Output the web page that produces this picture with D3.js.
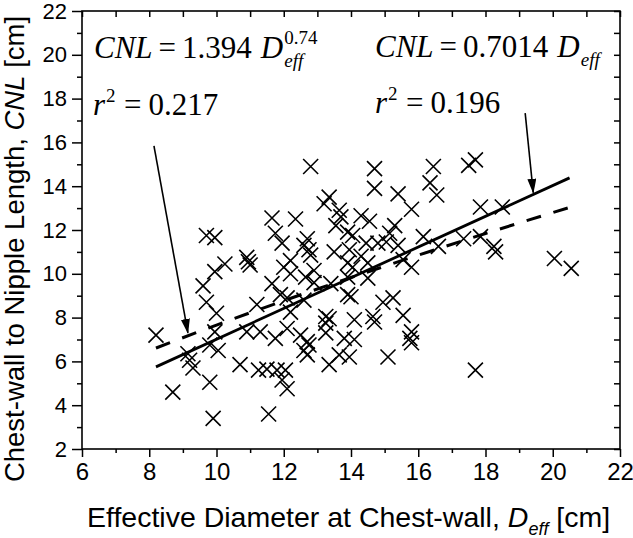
<!DOCTYPE html>
<html><head><meta charset="utf-8">
<script src="https://cdn.jsdelivr.net/npm/d3@7"></script>
<style>body{margin:0;background:#fff}text{white-space:pre}</style>
</head><body>
<svg id="chart" width="633" height="538"></svg>
<script>
// ---- data ----
const diameter = [
  8.2, 8.7,
  9.15, 9.2, 9.3, 9.6, 9.7, 9.7, 9.95, 9.8, 9.8, 9.9, 9.95, 10.0, 9.95, 10.05,
  10.25, 10.7, 10.9, 10.95, 11.0, 10.9,
  11.2, 11.3, 11.25, 11.5, 11.55, 11.65, 11.75, 11.65, 11.75, 11.9, 11.95, 11.95, 11.8,
  12.0, 12.05, 12.1, 12.1, 12.1, 12.2, 12.2, 12.2, 12.35, 12.5, 12.6, 12.6, 12.6, 12.65, 12.7, 12.7, 12.75, 12.7, 12.75, 12.8, 12.8, 12.9, 12.9,
  13.2, 13.35, 13.25, 13.25, 13.35, 13.25, 13.35, 13.4, 13.5, 13.55, 13.65, 13.7, 13.65, 13.8, 13.9, 13.9, 13.9, 13.9, 13.95, 13.95, 14.0,
  14.05, 14.05, 14.1, 14.1, 14.3, 14.3, 14.45, 14.5, 14.5, 14.55, 14.7, 14.7, 14.65, 14.7, 14.8, 14.95,
  15.05, 15.15, 15.3, 15.4, 15.25, 15.1, 15.4, 15.55, 15.55, 15.8, 15.8, 15.8, 15.75, 15.8,
  16.15, 16.45, 16.35, 16.55, 16.6,
  17.35, 17.5, 17.7, 17.7, 17.85, 17.85, 18.25, 18.3, 18.5, 20.05, 20.55
];
const nippleLength = [
  7.2, 4.6,
  6.35, 6.05, 5.7, 9.45, 8.7, 11.75, 11.65, 6.75, 5.05, 3.4, 7.35, 8.2, 10.1, 6.5,
  10.45, 5.85, 10.75, 10.55, 10.4, 7.35,
  8.6, 7.35, 5.6, 5.65, 3.6, 12.55, 11.85, 9.55, 7.05, 9.05, 11.4, 5.15, 5.6,
  10.3, 5.6, 4.75, 8.9, 7.5, 10.6, 10.0, 8.25, 12.5, 7.2, 8.8, 11.3, 6.5, 9.85, 11.6, 6.9, 6.75, 6.3, 11.1, 14.9, 10.85, 10.15, 9.6,
  13.2, 13.5, 8.05, 7.3, 7.95, 7.75, 5.85, 9.55, 11.0, 12.2, 12.9, 12.6, 6.3, 7.05, 11.9, 10.5, 9.85, 9.05, 11.1, 6.2, 8.95,
  11.75, 10.3, 7.9, 7.0, 12.65, 10.8, 11.4, 10.5, 9.8, 12.4, 14.8, 13.9, 8.05, 7.8, 11.4, 8.7,
  11.45, 11.85, 12.2, 11.3, 8.9, 6.2, 13.65, 8.1, 10.65, 10.3, 12.95, 7.35, 7.05, 6.85,
  11.7, 14.9, 14.15, 13.6, 11.25,
  11.6, 14.95, 15.2, 5.6, 13.05, 11.7, 11.25, 11.0, 13.05, 10.7, 10.25
];
// linear fit CNL = 0.7014 Deff (end points)
const linearFitD = [8.2, 20.5];
const linearFitCNL = [5.75, 14.38];
// power fit CNL = 1.394 Deff^0.74
const powerFitD = [8.2, 10, 12, 14, 16, 18, 20.5];
const powerFitCNL = [6.61, 7.66, 8.77, 9.83, 10.85, 11.84, 13.03];

const xMajorTicks = [6, 8, 10, 12, 14, 16, 18, 20, 22];
const xMinorTicks = [7, 9, 11, 13, 15, 17, 19, 21];
const yMajorTicks = [2, 4, 6, 8, 10, 12, 14, 16, 18, 20, 22];
const yMinorTicks = [3, 5, 7, 9, 11, 13, 15, 17, 19, 21];

const xLabelMain = "Effective Diameter at Chest-wall, ";
const yLabelMain = "Chest-wall to Nipple Length, ";

// arrows (data coordinates: start -> tip)
const arrowLeft = [[8.14, 15.84], [9.15, 7.30]];
const arrowRight = [[19.18, 17.34], [19.42, 13.70]];

// ---- drawing ----
const svg = d3.select('#chart');
const W = 633, H = 538;
const plot = {left: 82, right: 620, top: 11, bottom: 449};
const x = d3.scaleLinear().domain([6, 22]).range([plot.left, plot.right]);
const y = d3.scaleLinear().domain([2, 22]).range([plot.bottom, plot.top]);
const sans = '"Liberation Sans", Arial, sans-serif';
const serif = '"Liberation Serif", "Times New Roman", serif';

svg.append('rect').attr('width', W).attr('height', H).attr('fill', '#fff');

function styleAxis(g, fs) {
  g.select('.domain').remove();
  g.selectAll('.tick line').attr('stroke', '#000').attr('stroke-width', 1.5);
  g.attr('font-family', sans).attr('font-size', fs);
  g.selectAll('.tick text').attr('fill', '#000');
}

// bottom axis
svg.append('g').attr('transform', `translate(0,${plot.bottom})`)
  .call(d3.axisBottom(x).tickValues(xMajorTicks).tickSize(8).tickPadding(6).tickFormat(d3.format('d')))
  .call(g => styleAxis(g, 24));
svg.append('g').attr('transform', `translate(0,${plot.bottom})`)
  .call(d3.axisBottom(x).tickValues(xMinorTicks).tickSize(4).tickFormat(''))
  .call(g => styleAxis(g, 24));
// left axis
svg.append('g').attr('transform', `translate(${plot.left},0)`)
  .call(d3.axisLeft(y).tickValues(yMajorTicks).tickSize(10).tickPadding(5).tickFormat(d3.format('d')))
  .call(g => styleAxis(g, 22));
svg.append('g').attr('transform', `translate(${plot.left},0)`)
  .call(d3.axisLeft(y).tickValues(yMinorTicks).tickSize(5).tickFormat(''))
  .call(g => styleAxis(g, 22));
// top axis (inward)
svg.append('g').attr('transform', `translate(0,${plot.top})`)
  .call(d3.axisTop(x).tickValues(xMajorTicks.concat(xMinorTicks)).tickSize(-6).tickFormat(''))
  .call(g => styleAxis(g, 22));
// right axis (inward)
svg.append('g').attr('transform', `translate(${plot.right},0)`)
  .call(d3.axisRight(y).tickValues(yMajorTicks.concat(yMinorTicks)).tickSize(-6).tickFormat(''))
  .call(g => styleAxis(g, 22));

// frame
svg.append('rect').attr('x', plot.left).attr('y', plot.top)
  .attr('width', plot.right - plot.left).attr('height', plot.bottom - plot.top)
  .attr('fill', 'none').attr('stroke', '#000').attr('stroke-width', 1.6);

// scatter X markers
const r = 7.5;
svg.append('g').selectAll('path').data(diameter.map((d, i) => [d, nippleLength[i]]))
  .join('path')
  .attr('d', d => {
    const cx = x(d[0]), cy = y(d[1]);
    return `M${cx - r},${cy - r}L${cx + r},${cy + r}M${cx - r},${cy + r}L${cx + r},${cy - r}`;
  })
  .attr('stroke', '#000').attr('stroke-width', 1.6).attr('fill', 'none');

// fit lines
svg.append('path').datum(powerFitD.map((d, i) => [d, powerFitCNL[i]]))
  .attr('d', d3.line().x(d => x(d[0])).y(d => y(d[1])).curve(d3.curveMonotoneX))
  .attr('fill', 'none').attr('stroke', '#000')
  .attr('stroke-width', 3).attr('stroke-dasharray', '15,13');
svg.append('path').datum(linearFitD.map((d, i) => [d, linearFitCNL[i]]))
  .attr('d', d3.line().x(d => x(d[0])).y(d => y(d[1]))).attr('fill', 'none').attr('stroke', '#000')
  .attr('stroke-width', 2.8);

// arrows
const defs = svg.append('defs');
defs.append('marker').attr('id', 'ah').attr('markerUnits', 'userSpaceOnUse')
  .attr('markerWidth', 15).attr('markerHeight', 9).attr('refX', 14).attr('refY', 4.5)
  .attr('orient', 'auto')
  .append('path').attr('d', 'M0,0L15,4.5L0,9Z').attr('fill', '#000');
[arrowLeft, arrowRight].forEach(a => {
  svg.append('line')
    .attr('x1', x(a[0][0])).attr('y1', y(a[0][1]))
    .attr('x2', x(a[1][0])).attr('y2', y(a[1][1]))
    .attr('stroke', '#000').attr('stroke-width', 1.6).attr('marker-end', 'url(#ah)');
});

// equations: pieces placed one after another
function piece(px, py, txt, fs, italic) {
  const t = svg.append('text').attr('x', px).attr('y', py)
    .attr('font-family', serif).attr('font-size', fs).attr('fill', '#000')
    .attr('font-style', italic ? 'italic' : 'normal').text(txt);
  return px + t.node().getComputedTextLength();
}
function equation(px, py, num, sup) {
  let e = piece(px, py, 'CNL', 31, true);
  e = piece(e + 6, py, '=', 31, false);
  e = piece(e + 6, py, num, 31, false);
  e = piece(e + 9, py, 'D', 31, true);
  if (sup) piece(e + 1, py - 14, sup, 19, false);
  piece(e + 1, py + 9, 'eff', 19, true);
}
function rsq(px, py, val) {
  let e = piece(px, py, 'r', 31, true);
  piece(e + 1, py - 13, '2', 19, false);
  e = piece(e + 19, py, '=', 31, false);
  piece(e + 7, py, val, 31, false);
}
equation(94, 58, '1.394', '0.74');
rsq(93, 115, '0.217');
equation(375, 57, '0.7014', null);
rsq(375, 113, '0.196');

// axis titles
const xl = svg.append('text').attr('x', 87).attr('y', 527)
  .attr('font-family', sans).attr('font-size', 28.5).attr('fill', '#000');
xl.append('tspan').text(xLabelMain);
xl.append('tspan').attr('font-style', 'italic').text('D');
xl.append('tspan').attr('font-style', 'italic').attr('font-size', 18).attr('dy', 8).text('eff');
xl.append('tspan').attr('dy', -8).text(' [cm]');

const yl = svg.append('text').attr('transform', 'translate(24,249) rotate(-90)')
  .attr('text-anchor', 'middle')
  .attr('font-family', sans).attr('font-size', 27.5).attr('fill', '#000');
yl.append('tspan').text(yLabelMain);
yl.append('tspan').attr('font-style', 'italic').text('CNL');
yl.append('tspan').text(' [cm]');
</script>
</body></html>
